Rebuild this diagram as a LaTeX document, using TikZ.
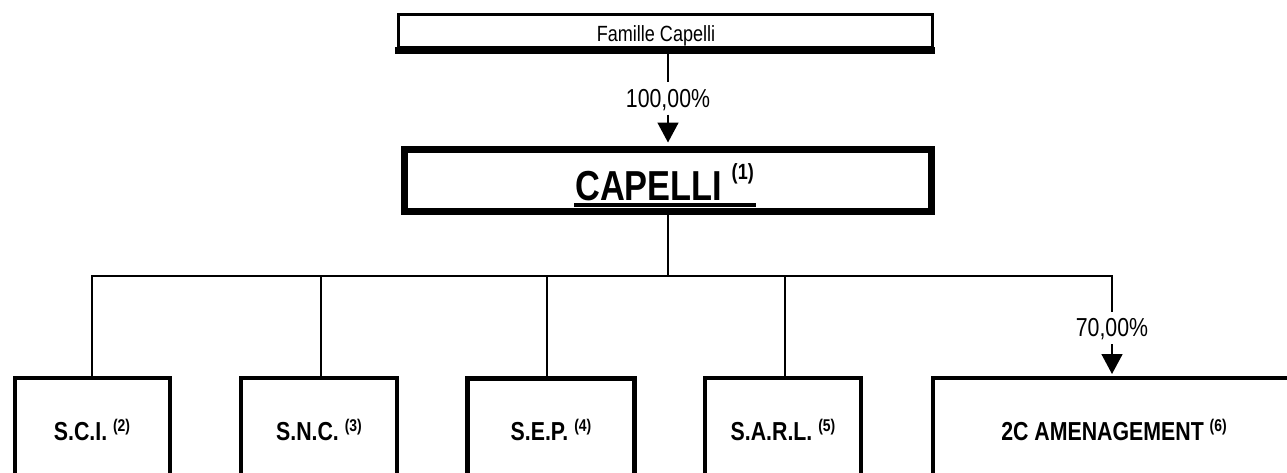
\documentclass[tikz,border=0pt]{standalone}
\usepackage{fontspec}
\usetikzlibrary{arrows.meta}
\newfontfamily\nar[FakeStretch=0.82]{Liberation Sans}
\newcommand{\famfont}{\nar\fontsize{22}{24}\selectfont}
\newcommand{\pctfont}{\nar\fontsize{26}{28}\selectfont}
\newcommand{\capfont}{\nar\bfseries\fontsize{41.9}{44}\selectfont}
\newcommand{\subfont}{\nar\bfseries\fontsize{26}{28}\selectfont}
\newcommand{\bigsup}[1]{\raisebox{21pt}{\nar\bfseries\fontsize{22}{24}\selectfont #1}}
\newcommand{\smallsup}[1]{\raisebox{9pt}{\nar\bfseries\fontsize{17}{18}\selectfont #1}}
\tikzset{
  conn/.style={line width=1.6pt, line cap=rect},
  arr/.style={line width=1.6pt, -{Triangle[length=20pt,width=21pt]}},
  pct/.style={font=\pctfont, inner sep=0pt, text height=18.6pt, text depth=0pt, minimum height=33pt, fill=white},
  bbox/.style={draw, line width=4pt, fill=white, inner sep=0pt, minimum height=130pt, anchor=north},
  txt/.style={inner sep=0pt, anchor=base},
}
\begin{document}
\begin{tikzpicture}[x=1pt,y=-1pt]
\useasboundingbox (0,0) rectangle (1287,472);
\clip (0,0) rectangle (1287,472);
\fill[white] (0,0) rectangle (1287,472);

% top family box
\node[draw, line width=3pt, fill=white, minimum width=534pt, minimum height=33pt, inner sep=0pt] (famille) at (665,30.5) {};
\fill ([xshift=-1.5pt,yshift=2pt]famille.south west) rectangle ([xshift=1.5pt,yshift=-5pt]famille.south east);
\node[txt, font=\famfont] (famtxt) at (656,41) {Famille Capelli};

% percentage label
\node[pct] (p100) at (668,98) {100,00\%};

% main box
\node[draw, line width=7pt, minimum width=527pt, minimum height=62pt, inner sep=0pt] (capelli) at (668,180.5) {};
\node[txt, font=\capfont] (captxt) at (664.5,200) {CAPELLI \bigsup{(1)}};
\draw[line width=4pt] ([yshift=-5pt,xshift=-1pt]captxt.base west) -- ([yshift=-5pt,xshift=2pt]captxt.base east);

\draw[conn] (p100.north) -- (p100.north |- famille.south);
\draw[arr] (p100.south) -- ([yshift=3.5pt]capelli.north);

% bus
\coordinate (bus) at (668,276);

% subsidiaries
\node[bbox, minimum width=155pt] (sci) at (92,376) {};
\node[bbox, minimum width=156pt] (snc) at (319,376) {};
\node[bbox, line width=5pt, minimum width=167pt] (sep) at (551,376) {};
\node[bbox, minimum width=156pt] (sarl) at (783,376) {};
\node[bbox, minimum width=358pt] (am) at (1112,376) {};

\coordinate (busR) at (am.north |- bus);

\draw[conn] (capelli.south) -- (bus);
\draw[conn] (sci.north) |- (bus);
\draw[conn] ([xshift=2pt]snc.north) |- (bus);
\draw[conn] ([xshift=-4pt]sep.north) |- (bus);
\draw[conn] ([xshift=2pt]sarl.north) |- (bus);
\draw[conn] (bus) -- (busR);

\node[pct] (p70) at (1112,327.5) {70,00\%};
\draw[conn] (busR) -- (p70.north);
\draw[arr] (p70.south) -- ([yshift=2pt]am.north);

% redraw box borders over connector ends
\node[bbox, minimum width=155pt, fill=none] at (92,376) {};
\node[bbox, minimum width=156pt, fill=none] at (319,376) {};
\node[bbox, line width=5pt, minimum width=167pt, fill=none] at (551,376) {};
\node[bbox, minimum width=156pt, fill=none] at (783,376) {};
\node[bbox, minimum width=358pt, fill=none] at (1112,376) {};
\node[draw, line width=7pt, minimum width=527pt, minimum height=62pt, inner sep=0pt] at (668,180.5) {};

\node[txt, font=\subfont] (scitxt) at ([yshift=-64pt]sci.north) {S.C.I. \smallsup{(2)}};
\node[txt, font=\subfont] (snctxt) at ([yshift=-64pt]snc.north) {S.N.C. \smallsup{(3)}};
\node[txt, font=\subfont] (septxt) at ([yshift=-64pt]sep.north) {S.E.P. \smallsup{(4)}};
\node[txt, font=\subfont] (sarltxt) at ([yshift=-64pt]sarl.north) {S.A.R.L. \smallsup{(5)}};
\node[txt, font=\subfont] (amtxt) at ([yshift=-64pt,xshift=2pt]am.north) {2C AMENAGEMENT \smallsup{(6)}};
\end{tikzpicture}
\end{document}
